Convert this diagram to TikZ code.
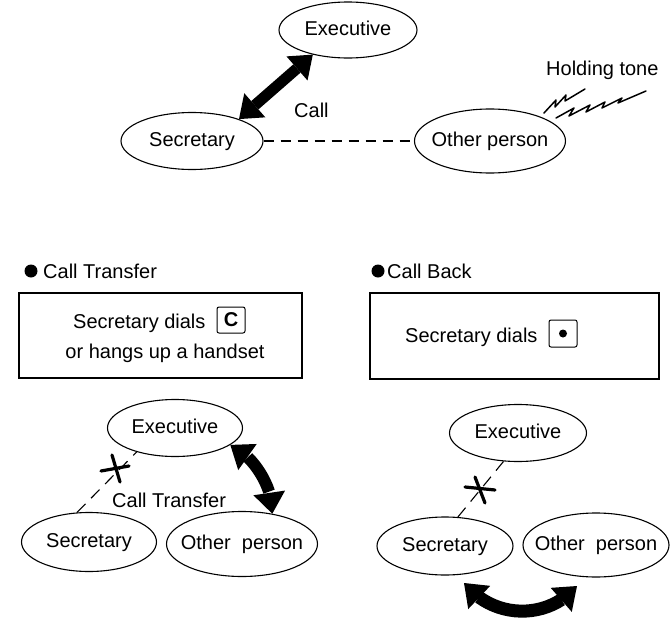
\documentclass[tikz,border=0pt]{standalone}
\usepackage{fontspec}
\setmainfont{Liberation Sans}
\usetikzlibrary{shapes.geometric,arrows.meta,bending}
\tikzset{
  txt/.style={inner sep=0pt, font=\fontsize{20}{24}\selectfont},
  pers/.style={ellipse, draw, line width=1.1pt, inner sep=0pt, text height=14pt, text depth=4pt, font=\fontsize{20}{24}\selectfont},
  boxst/.style={rectangle, draw, line width=1.1pt, inner sep=0pt},
  keyst/.style={rectangle, draw, rounded corners=2pt, line width=1pt, inner sep=0pt},
  fat/.style={line width=#1, {Triangle[width=32pt,length=21pt,line width=0pt]}-{Triangle[width=32pt,length=21pt,line width=0pt]}},
  dashline/.style={line width=1.1pt, dash pattern=on 10pt off 7pt},
  xmark/.style={line width=3.2pt, line cap=round},
  zig/.style={line width=1.5pt, line join=round, line cap=round}
}
\begin{document}
\begin{tikzpicture}[x=1pt,y=-1pt]
\useasboundingbox (0,0) rectangle (670,624);

% ---------- top section ----------
\node[pers, minimum width=138pt, minimum height=56pt] (exe1) at (348,30) {\makebox[0pt]{Executive}};
\node[pers, minimum width=142pt, minimum height=57pt] (sec1) at (192,141) {\makebox[0pt]{Secretary}};
\node[pers, minimum width=151pt, minimum height=64pt] (oth1) at (490,141) {\makebox[0pt]{Other person}};
\draw[fat=11pt] (sec1.25) -- (exe1.215);
\node[txt, anchor=base west] (call) at (294,117) {Call};
\draw[dashline] (sec1.east) -- (oth1.west);
\node[txt, anchor=base west] (hold) at (546,75) {Holding tone};
\draw[zig] (544,113) -- (556,100) -- (555,107) -- (566,95) -- (565,101) -- (585,89);
\draw[zig] (556,118) -- (574,108) -- (569,116) -- (590,105) -- (586,112) -- (605,102) -- (602,108) -- (622,98) -- (618,103) -- (646,91);

% ---------- Call Transfer ----------
\node[circle, fill, minimum size=13pt, inner sep=0pt] (b1) at (31,271) {};
\node[txt, anchor=base west] (h1) at (43,278) {Call Transfer};
\node[boxst, minimum width=283pt, minimum height=85pt] (box1) at (160.5,335.5) {};
\node[txt, anchor=base west] (t1) at (73,328) {Secretary dials};
\node[keyst, minimum width=28pt, minimum height=26pt, font=\fontsize{20}{22}\bfseries] (kc) at (231,320) {C};
\node[txt, anchor=base] (t2) at (165,358) {or hangs up a handset};

\node[pers, minimum width=135pt, minimum height=57pt] (exe2) at (175,428) {\makebox[0pt]{Executive}};
\node[pers, minimum width=135pt, minimum height=59pt] (sec2) at (89,542) {\makebox[0pt]{Secretary}};
\node[pers, minimum width=151pt, minimum height=65pt] (oth2) at (242,544) {\makebox[0pt]{Other\ \ person}};
\draw[line width=1.1pt, dash pattern=on 12pt off 8pt] (sec2.112) -- (exe2.212);
\draw[xmark] (101,471) -- (129,466);
\draw[xmark] (112,455) -- (120,482);
\node[txt, anchor=base west] (ct) at (112,507) {Call Transfer};
\draw[fat=12pt] (exe2.343) .. controls (255,456) and (274,490) .. (oth2.45);

% ---------- Call Back ----------
\node[circle, fill, minimum size=13pt, inner sep=0pt] (b2) at (378,271) {};
\node[txt, anchor=base west] (h2) at (387,278) {Call Back};
\node[boxst, minimum width=289pt, minimum height=86pt] (box2) at (514.5,336) {};
\node[txt, anchor=base west] (t3) at (405,342) {Secretary dials};
\node[keyst, minimum width=28pt, minimum height=27pt] (kd) at (563,333.5) {};
\fill (kd.center) circle (4pt);

\node[pers, minimum width=137pt, minimum height=57pt] (exe3) at (518,433) {\makebox[0pt]{Executive}};
\node[pers, minimum width=136pt, minimum height=58pt] (sec3) at (445,546) {\makebox[0pt]{Secretary}};
\node[pers, minimum width=146pt, minimum height=64pt] (oth3) at (596,545) {\makebox[0pt]{Other\ \ person}};
\draw[line width=1.1pt, dash pattern=on 12pt off 8pt] (sec3.66) -- (exe3.243);
\draw[xmark] (465,487) -- (495,490);
\draw[xmark] (475,477) -- (485,503);
\coordinate (cbl) at (464,583);
\coordinate (cbr) at (577,586);
\draw[fat=13pt] (cbl) .. controls (494,620) and (548,620) .. (cbr);
\end{tikzpicture}
\end{document}
